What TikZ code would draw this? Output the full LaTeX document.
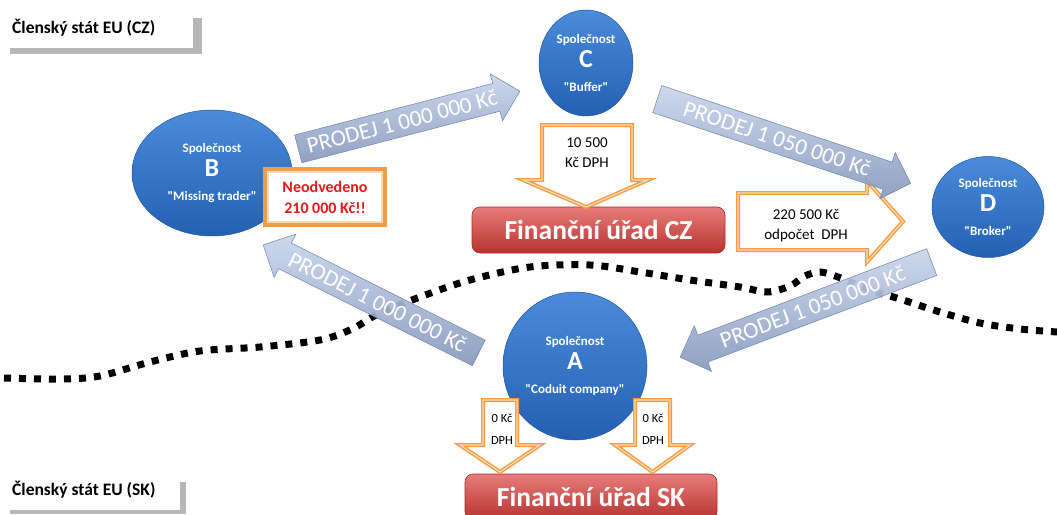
\documentclass[tikz,border=0pt]{standalone}
\usepackage{fontspec}
\setmainfont{Carlito}[Ligatures=TeXOff]
\usetikzlibrary{shapes.geometric,shapes.arrows}
\definecolor{graybar}{HTML}{B7B7B7}
\definecolor{circtop}{HTML}{4A8BDA}
\definecolor{circbot}{HTML}{2460B2}
\definecolor{arrtop}{HTML}{CAD6EC}
\definecolor{arrbot}{HTML}{8799BE}
\definecolor{arredge}{HTML}{7A8DB2}
\definecolor{redtop}{HTML}{E87C79}
\definecolor{redbot}{HTML}{B53330}
\definecolor{rededge}{HTML}{A52C2A}
\definecolor{orOut}{HTML}{F29D45}
\definecolor{orIn}{HTML}{FCD9B2}
\definecolor{neored}{HTML}{E01B1B}
\newcommand\firma[2]{Společnost\\{\fontsize{26}{24}\selectfont #1}\\#2}
\begin{document}
\begin{tikzpicture}[x=1pt,y=-1pt,
  titletext/.style={font=\bfseries\fontsize{17.5}{20}\selectfont, inner sep=0pt, anchor=west},
  border/.style={line width=7pt, dash pattern=on 7pt off 8pt, black},
  firm/.style={ellipse, top color=circtop, bottom color=circbot, draw=circbot!90!black, line width=0.5pt,
    text=white, align=center, inner sep=0pt, font=\bfseries\fontsize{13}{24}\selectfont},
  neo/.style={rectangle, draw=orOut, line width=4pt, fill=white, text=neored, align=center,
    font=\bfseries\fontsize{16}{21}\selectfont, minimum width=120pt, minimum height=56pt},
  office/.style={rectangle, rounded corners=8pt, top color=redtop, bottom color=redbot, draw=rededge,
    line width=0.6pt, text=white, font=\bfseries\fontsize{27.5}{28}\selectfont},
  orarrow/.style={draw=orOut, line width=1.4pt, double=orIn, double distance=1.2pt, fill=white, line join=miter},
  ortext/.style={align=center, font=\fontsize{15}{20}\selectfont, inner sep=0pt},
  ortextsmall/.style={align=center, font=\fontsize{12.5}{22}\selectfont, inner sep=0pt},
  barrow/.style={single arrow, top color=arrtop, bottom color=arrbot, draw=arredge, line width=0.6pt,
    fill opacity=0.92, text opacity=1,
    single arrow head extend=10pt, single arrow tip angle=90, inner xsep=2pt, inner ysep=6.5pt,
    text height=15pt, text depth=0pt, font=\fontsize{23}{23}\selectfont, text=white, minimum height=#1}
]
\useasboundingbox (0,0) rectangle (1057,514);
\fill[white] (0,0) rectangle (1057,514);

% state labels
\fill[graybar] (193,18) rectangle (202,54);
\fill[graybar] (10,48) rectangle (202,54);
\node[titletext] (tcz) at (12,28) {Členský stát EU (CZ)};
\fill[graybar] (180,482) rectangle (186,514);
\fill[graybar] (10,510) rectangle (186,514);
\node[titletext] (tsk) at (12,490) {Členský stát EU (SK)};

% border line
\draw[border] plot[smooth, tension=0.55] coordinates {(4,378) (60,379) (100,376) (150,362) (200,351) (260,347) (320,340) (352,329) (378,314) (420,297) (470,280) (530,267) (590,265) (640,272) (690,280) (740,287) (767,292) (790,286) (805,276) (820,272) (838,277) (870,290) (900,299) (940,312) (980,323) (1020,329) (1057,332)};

% companies
\node[firm, minimum width=160pt, minimum height=126pt] (B) at (212,173) {\firma{B}{"Missing trader"}};
\node[firm, minimum width=94pt, minimum height=106pt] (C) at (586,63) {\firma{C}{"Buffer"}};
\node[firm, minimum width=112pt, minimum height=101pt] (D) at (988,207) {\firma{D}{"Broker"}};
\node[firm, minimum width=144pt, minimum height=148pt] (A) at (575,366) {\firma{A}{"Coduit company"}};

% tax offices
\node[office, minimum width=253pt, minimum height=46pt] (FCZ) at (598.5,230) {Finanční úřad CZ};
\node[office, minimum width=252pt, minimum height=46pt] (FSK) at (591,497) {Finanční úřad SK};

% missing VAT
\node[neo] (N) at (325,197) {Neodvedeno\\210 000 Kč!!};
\draw[orIn, line width=1.2pt] ([shift={(5,5)}]N.north west) rectangle ([shift={(-5,-5)}]N.south east);

% orange VAT arrows
\draw[orarrow] (542,125) -- (632,125) -- (632,180) -- (648,180) -- (586,207) -- (523,180) -- (542,180) -- cycle;
\node[ortext] (t1) at (587,153) {10 500\\Kč DPH};
\draw[orarrow] (738,193) -- (867,193) -- (867,181) -- (903,221.5) -- (867,262) -- (867,250) -- (738,250) -- cycle;
\node[ortext] (t2) at (806,226) {220 500 Kč\\odpočet\ \ DPH};
\draw[orarrow] (483,400) -- (517,400) -- (517,445) -- (540,445) -- (500,472) -- (460,445) -- (483,445) -- cycle;
\node[ortextsmall] (t3) at (502,429) {0 Kč\\DPH};
\draw[orarrow] (635,400) -- (670,400) -- (670,445) -- (690,445) -- (652.5,472) -- (615,445) -- (635,445) -- cycle;
\node[ortextsmall] (t4) at (653,429) {0 Kč\\DPH};

% sales
\coordinate (s1) at (298,149);
\coordinate (s2) at (657,99);
\coordinate (s3) at (932,262);
\coordinate (s4) at (479,353);
\node[barrow=229pt, rotate=14.6, anchor=tail] (P1) at (s1) {PRODEJ 1 000 000 Kč};
\node[barrow=267pt, rotate=-18.4, anchor=tail] (P2) at (s2) {PRODEJ 1 050 000 Kč};
\node[barrow=269pt, rotate=20.7, shape border rotate=180, anchor=tail] (P3) at (s3) {PRODEJ 1 050 000 Kč};
\node[barrow=241pt, rotate=-26.6, shape border rotate=180, anchor=tail] (P4) at (s4) {PRODEJ 1 000 000 Kč};
\end{tikzpicture}
\end{document}
